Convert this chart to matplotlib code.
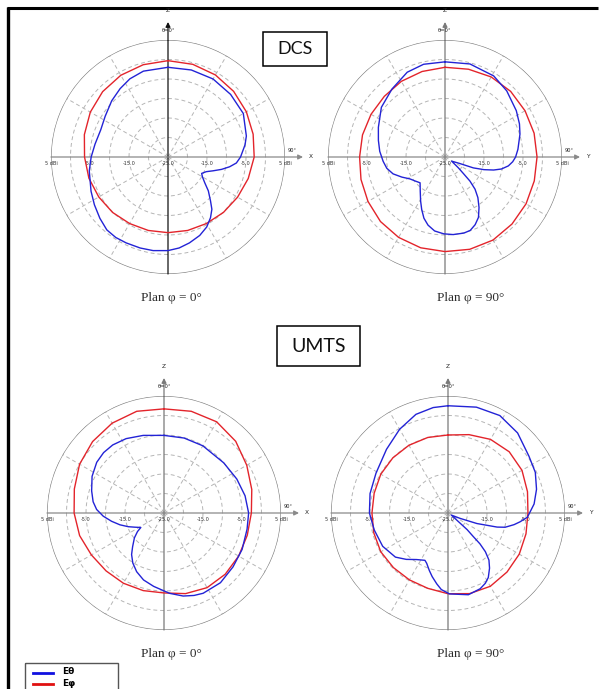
import numpy as np
import matplotlib
matplotlib.use("Agg")
import matplotlib.pyplot as plt
from matplotlib.patches import Rectangle

# ---------------- data (angle in degrees from Z, clockwise; gain in dBi) -------------
# DCS, plan phi = 0
dcs0_theta_t = [0, 15, 30, 45, 60, 75, 81, 90, 95, 99, 103, 107, 111, 116, 120, 125, 130, 136, 140,
                145, 151, 158, 166, 173, 180, 189, 197, 206, 213, 220, 228, 237, 246, 260, 270,
                280, 292, 303, 315, 325, 334, 344, 360]
dcs0_theta_v = [-2.0, -1.9, -1.9, -2.3, -2.7, -4.2, -5.0, -6.4, -7.4, -9.0, -10.9, -12.9, -14.5,
                -15.4, -14.8, -13.5, -11.5, -9.3, -7.5, -6.0, -4.5, -3.3, -2.3, -1.5, -1.0, -0.7,
                -0.6, -0.5, -0.4, -0.6, -1.5, -2.5, -3.4, -4.5, -5.3, -6.0, -6.4, -5.8, -4.6,
                -3.6, -2.7, -2.1, -2.0]
dcs0_phi_t = list(range(0, 361, 15))
dcs0_phi_v = [-0.3, -0.4, -0.7, -1.2, -1.8, -2.4, -2.9, -3.7, -4.4, -4.9, -5.3, -5.5, -5.6,
              -5.5, -5.3, -4.9, -4.5, -4.0, -3.6, -2.8, -2.0, -1.3, -0.8, -0.5, -0.3]

# DCS, plan phi = 90
dcs90_theta_t = [0, 15, 31, 43, 57, 66, 73, 78, 84, 90, 94, 98, 102, 105, 108, 111, 114, 122, 129,
                 132, 134, 137, 141, 146, 151, 156, 161, 166, 174, 181, 188, 194, 199, 204, 209,
                 216, 224, 231, 238, 245, 252, 259, 266, 275, 284, 294, 308, 322, 336, 347, 360]
dcs90_theta_v = [-0.6, -0.3, -0.75, -1.8, -3.2, -4.1, -4.9, -5.6, -6.2, -6.9, -7.6, -8.6, -10.2,
                 -12.1, -14.5, -17.2, -21.0, -23.0, -20.6, -18.6, -16.1, -13.7, -11.6, -9.4, -7.3,
                 -6.0, -5.1, -4.9, -5.0, -5.3, -5.85, -7.0, -8.4, -10.3, -12.1, -14.2, -15.8,
                 -15.2, -14.4, -12.8, -11.0, -9.8, -9.1, -8.2, -7.4, -6.3, -4.3, -2.9, -1.2,
                 -0.6, -0.6]
dcs90_phi_t = list(range(0, 361, 15))
dcs90_phi_v = [-2.0, -1.7, -1.3, -1.2, -1.3, -1.35, -1.4, -1.3, -1.0, -0.7, -0.4, -0.5, -0.75,
               -0.9, -1.2, -1.6, -2.2, -2.7, -3.1, -3.1, -3.1, -3.0, -2.6, -2.3, -2.0]

# UMTS, plan phi = 0
umts0_theta_t = [0, 15, 30, 50, 65, 78, 90, 101, 115, 128, 141, 154, 160, 167, 176, 188, 197, 205,
                 212, 218, 223, 230, 235, 238, 244, 249, 255, 261, 267, 273, 279, 287, 297, 307,
                 315, 323, 333, 345, 360]
umts0_theta_v = [-5.1, -5.1, -5.1, -5.0, -4.4, -3.75, -3.3, -3.3, -2.9, -2.55, -2.0, -2.1, -2.5,
                 -3.15, -4.35, -6.0, -7.05, -8.4, -9.9, -11.5, -13.2, -15.1, -16.7, -18.0, -16.7,
                 -15.2, -13.3, -11.4, -9.4, -7.7, -6.6, -5.6, -4.3, -3.4, -3.1, -3.15, -3.6,
                 -4.4, -5.1]
umts0_phi_t = list(range(0, 361, 15))
umts0_phi_v = [1.7, 2.0, 2.0, 1.0, -0.5, -1.7, -2.6, -2.9, -2.9, -2.8, -2.9, -3.6, -4.5,
               -4.4, -4.2, -4.0, -3.5, -2.6, -1.95, -1.2, 0.0, 0.9, 1.6, 2.0, 1.7]

# UMTS, plan phi = 90
umts90_theta_t = [0, 15, 28, 41, 55, 65, 75, 84, 93, 97, 100, 104, 106, 110, 114, 122, 131, 133,
                  134, 136, 139, 143, 148, 152, 157, 166, 173, 179, 185, 189, 194, 198, 203, 206,
                  214, 222, 230, 243, 257, 270, 284, 299, 316, 330, 342, 352, 360]
umts90_theta_v = [2.5, 3.1, 3.3, 2.2, 0.35, -0.3, -1.5, -2.8, -4.6, -6.4, -7.8, -9.9, -11.9, -17.1,
                  -21.6, -24.0, -18.5, -16.1, -13.6, -11.2, -9.0, -7.3, -5.5, -4.6, -3.9, -3.4,
                  -4.0, -4.25, -5.3, -6.6, -8.2, -9.5, -11.0, -11.5, -10.6, -9.0, -7.4, -6.2,
                  -5.6, -4.85, -4.4, -3.9, -2.3, -0.2, 1.6, 2.3, 2.5]
umts90_phi_t = list(range(0, 361, 15))
umts90_phi_v = [-5.0, -4.2, -3.2, -2.8, -3.1, -3.9, -4.5, -4.3, -3.9, -3.6, -3.3, -3.6, -4.3,
                -5.0, -5.2, -5.2, -5.1, -5.3, -5.5, -5.4, -5.1, -5.0, -4.95, -4.95, -5.0]

tick_radii = [5, -5, -15, -25, -15, -5, 5]
tick_labels = ["5 dBi", "-5.0", "-15.0", "-25.0", "-15.0", "-5.0", "5 dBi"]
ring_levels = [-20, -15, -10, -5, 0]
spoke_angles = [30, 60, 120, 150, 210, 240, 300, 330]
axis_names = ["X", "Y", "X", "Y"]
plan_labels = ["Plan \u03c6 = 0\u00b0", "Plan \u03c6 = 90\u00b0", "Plan \u03c6 = 0\u00b0", "Plan \u03c6 = 90\u00b0"]
band_labels = ["DCS", "UMTS"]
legend_labels = ["E\u03b8", "E\u03c6"]

# ---------------- figure ----------------
W, H = 600, 689
fig = plt.figure(figsize=(6, 6.89), dpi=100)
bg = fig.add_axes([0, 0, 1, 1])
bg.set_xlim(0, W)
bg.set_ylim(H, 0)
bg.axis("off")

BLUE = "#2323d6"
RED = "#e3242b"

# frame
bg.plot([8, 8], [7, H + 5], color="black", lw=2.4, solid_capstyle="butt")
bg.plot([7, 598], [7.5, 7.5], color="black", lw=2.2, solid_capstyle="butt")

# band boxes
bg.add_patch(Rectangle((263, 32), 64, 34, fill=False, ec="black", lw=1.1))
bg.text(295, 49.5, band_labels[0], ha="center", va="center", fontsize=13, family="Lato", color="#111")
bg.add_patch(Rectangle((277, 326), 83, 40, fill=False, ec="black", lw=1.1))
bg.text(318.5, 346.5, band_labels[1], ha="center", va="center", fontsize=14, family="Lato", color="#111")

# legend
bg.add_patch(Rectangle((25, 663), 93, 30, fill=False, ec="#555", lw=1.0))
bg.plot([33, 53], [673, 673], color="#1010e0", lw=2.0)
bg.plot([33, 53], [683.5, 683.5], color="#e01010", lw=2.0)
bg.text(62, 671, legend_labels[0], ha="left", va="center", fontsize=6.5, fontweight="bold", family="DejaVu Sans")
bg.text(62, 684, legend_labels[1], ha="left", va="center", fontsize=6.5, fontweight="bold", family="DejaVu Sans")

R = 117.0
centers = [(168, 157), (445, 157), (164, 513), (448, 513)]
curves = [
    (dcs0_theta_t, dcs0_theta_v, dcs0_phi_t, dcs0_phi_v),
    (dcs90_theta_t, dcs90_theta_v, dcs90_phi_t, dcs90_phi_v),
    (umts0_theta_t, umts0_theta_v, umts0_phi_t, umts0_phi_v),
    (umts90_theta_t, umts90_theta_v, umts90_phi_t, umts90_phi_v),
]
plan_pos = [(171, 298), (471, 298), (171, 654), (471, 654)]
vert_col = ["#111111", "#7a7a7a", "#7a7a7a", "#7a7a7a"]

full = np.linspace(0, 2 * np.pi, 721)
for i, (cx, cy) in enumerate(centers):
    ax = fig.add_axes([(cx - R) / W, 1 - (cy + R) / H, 2 * R / W, 2 * R / H], projection="polar")
    ax.set_theta_zero_location("N")
    ax.set_theta_direction(-1)
    ax.set_ylim(-25, 5)
    ax.axis("off")
    ax.patch.set_alpha(0)
    # dashed rings and spokes
    for lv in ring_levels:
        ax.plot(full, np.full_like(full, lv), color="#b5b5b5", lw=0.7, ls=(0, (4, 3)))
    for a in spoke_angles:
        ax.plot([np.deg2rad(a)] * 2, [-25, 5], color="#b5b5b5", lw=0.7, ls=(0, (4, 3)))
    ax.plot(full, np.full_like(full, 5), color="#808080", lw=0.9)
    # axes with arrows
    ax.annotate("", xy=(0.5, 1.077), xytext=(0.5, 0.0), xycoords="axes fraction",
                arrowprops=dict(arrowstyle="-|>", color=vert_col[i], lw=0.9,
                                mutation_scale=7, shrinkA=0, shrinkB=0))
    ax.annotate("", xy=(1.077, 0.5), xytext=(0.0, 0.5), xycoords="axes fraction",
                arrowprops=dict(arrowstyle="-|>", color="#8a8a8a", lw=0.9,
                                mutation_scale=7, shrinkA=0, shrinkB=0))
    ax.text(0.5, 1.125, "Z", transform=ax.transAxes, ha="center", va="center", fontsize=4.2, color="#222")
    ax.text(0.5, 1.042, "\u03b8=0\u00b0", transform=ax.transAxes, ha="center", va="center", fontsize=3.8, color="#222")
    ax.text(1.112, 0.5, axis_names[i], transform=ax.transAxes, ha="center", va="center", fontsize=4.2, color="#222")
    ax.text(1.03, 0.527, "90\u00b0", transform=ax.transAxes, ha="center", va="center", fontsize=3.6, color="#222")
    for k, (rv, lab) in enumerate(zip(tick_radii, tick_labels)):
        off = (rv + 25) / 30.0 * 0.5
        x = 0.5 - off if k < 3 else 0.5 + off
        ax.text(x, 0.473, lab, transform=ax.transAxes, ha="center", va="center", fontsize=3.6, color="#333")
    tt, tv, pt, pv = curves[i]
    ax.plot(np.deg2rad(pt), pv, color=RED, lw=1.0, zorder=5, clip_on=False)
    ax.plot(np.deg2rad(tt), tv, color=BLUE, lw=1.0, zorder=6, clip_on=False)
    px, py = plan_pos[i]
    bg.text(px, py, plan_labels[i], ha="center", va="center", fontsize=9.5,
            family="Liberation Serif", color="#2a2a2a")

fig.savefig("out.png", dpi=100)
